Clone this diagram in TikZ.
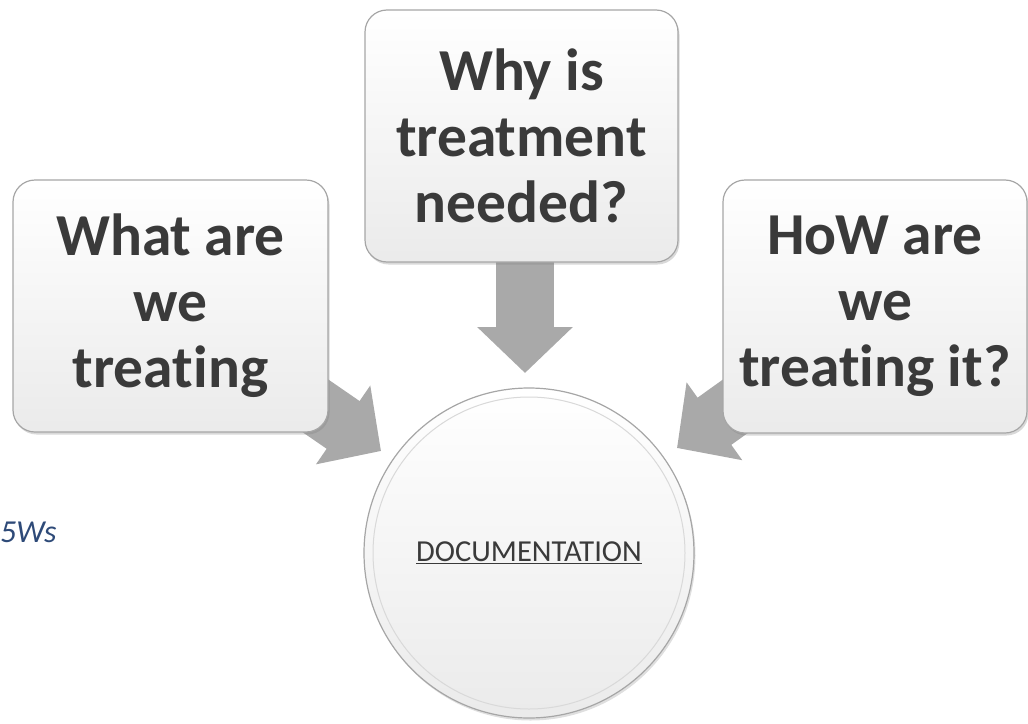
\documentclass[tikz,border=0pt]{standalone}
\usepackage{fontspec}
\setmainfont{Carlito}[Ligatures={NoCommon}]
\usetikzlibrary{arrows.meta,shadows,backgrounds}
\definecolor{txtgray}{HTML}{3A3A3A}
\definecolor{arrgray}{HTML}{A9A9A9}
\definecolor{bluetxt}{HTML}{2E4A78}
\definecolor{edgegray}{HTML}{A6A6A6}
\begin{document}
\begin{tikzpicture}[x=1pt,y=-1pt,
  qbox/.style={rectangle, rounded corners=22pt, draw=edgegray, line width=1.2pt,
    top color=white, bottom color=black!8, text=txtgray, align=center,
    font=\fontsize{59.5}{66}\selectfont\bfseries, inner sep=0pt,
    drop shadow={shadow xshift=1.5pt, shadow yshift=-2.5pt, opacity=.3}},
  fat/.style={line width=58pt, draw=arrgray,
    -{Triangle[length=46pt 0 0, width=93pt 0 0]}},
  docnode/.style={circle, draw=edgegray, line width=1.2pt, minimum size=330pt,
    top color=white, bottom color=black!8, text=txtgray, inner sep=0pt,
    font=\fontsize{30.5}{34}\selectfont,
    drop shadow={shadow xshift=1.5pt, shadow yshift=-2.5pt, opacity=.25}},
  note/.style={text=bluetxt, font=\fontsize{32}{36}\selectfont\itshape, inner sep=0pt}
]
\useasboundingbox (0,0) rectangle (1028,723);

\node[qbox, minimum width=315pt, minimum height=252pt] (lbox) at (170.5,306) {What are\\we\\treating};
\node[qbox, minimum width=313pt, minimum height=252pt] (mbox) at (521.5,136) {Why is\\treatment\\needed?};
\node[qbox, minimum width=304pt, minimum height=253pt] (rbox) at (875,306.5) {HoW are\\we\\treating it?};

\node[docnode] (doc) at (529,553) {\underline{DOCUMENTATION}};
\draw[black!15, line width=1pt] (doc.center) circle[radius=156pt];

\node[note, anchor=base west] (fivew) at (0,542) {5Ws};

\coordinate (ltip) at (381,451);
\coordinate (mtip) at (525,373);
\coordinate (rtip) at (677,448);

\begin{scope}[on background layer]
  \draw[fat] (lbox.center) -- (ltip);
  \draw[fat] (mtip |- mbox.center) -- (mtip);
  \draw[fat] (rbox.center) -- (rtip);
\end{scope}
\end{tikzpicture}
\end{document}
